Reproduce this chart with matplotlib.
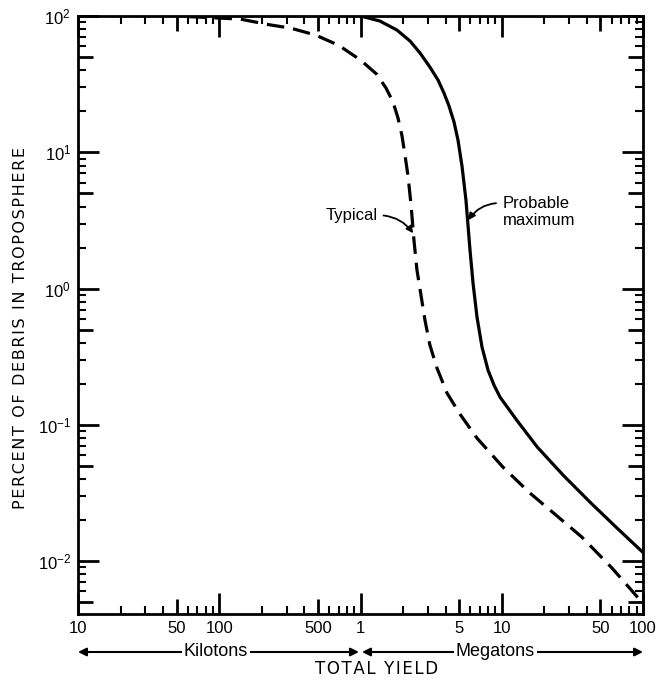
import numpy as np
import matplotlib
matplotlib.use('Agg')
import matplotlib.pyplot as plt
import matplotlib.transforms as mtransforms
from matplotlib.ticker import FixedLocator, NullFormatter

plt.rcParams['font.family'] = ['Liberation Sans', 'DejaVu Sans']
plt.rcParams['mathtext.fontset'] = 'custom'
plt.rcParams['mathtext.rm'] = 'Liberation Sans'
plt.rcParams['mathtext.it'] = 'Liberation Sans'

# total yield in megatons, percent of debris in troposphere
typical_yield = [0.06, 0.1, 0.14, 0.23, 0.32, 0.48, 0.7, 1.0, 1.3, 1.516, 1.70, 1.844,
                 1.967, 2.065, 2.17, 2.28, 2.39, 2.51, 2.68, 2.86, 3.1, 3.48, 4.1, 5.06,
                 6.68, 10.2, 15.85, 24.2, 37.0, 60.4, 100.0]
typical_pct = [99.0, 96.5, 95.0, 86.0, 81.5, 72.5, 61.0, 47.5, 37.5, 29.6, 23.4, 17.8,
               13.2, 9.54, 6.70, 4.10, 2.27, 1.37, 0.896, 0.587, 0.385, 0.261, 0.171, 0.12,
               0.080, 0.049, 0.0316, 0.0218, 0.015, 0.0089, 0.0049]

maximum_yield = [1.0, 1.37, 1.81, 2.24, 2.64, 3.1, 3.54, 3.90, 4.23, 4.59, 4.90, 5.23,
                 5.58, 5.96, 6.26, 6.68, 7.25, 8.0, 8.81, 9.72, 12.8, 17.8, 27.2, 42.2,
                 65.5, 100.0]
maximum_pct = [100.0, 91.9, 78.9, 65.6, 53.5, 42.2, 33.9, 27.2, 21.9, 16.7, 12.3, 7.93,
               4.46, 1.92, 1.10, 0.618, 0.372, 0.252, 0.196, 0.160, 0.108, 0.069, 0.0428,
               0.0271, 0.0175, 0.0116]

x_ticks = [0.01, 0.05, 0.1, 0.5, 1, 5, 10, 50, 100]
x_labels = ['10', '50', '100', '500', '1', '5', '10', '50', '100']
y_ticks = [0.01, 0.1, 1, 10, 100]
y_labels = [r'$10^{-2}$', r'$10^{-1}$', r'$10^{0}$', r'$10^{1}$', r'$10^{2}$']


def spaced(s):
    return '\u200a'.join(s)


fig = plt.figure(figsize=(6.59, 6.84), dpi=100)
ax = fig.add_axes([78 / 659, 1 - 614 / 684, 565 / 659, 598 / 684])

ax.plot(typical_yield, typical_pct, color='black', lw=2.3, dashes=(5.5, 2.8),
        solid_capstyle='butt', dash_capstyle='butt')
ax.plot(maximum_yield, maximum_pct, color='black', lw=2.3)

ax.set_xscale('log')
ax.set_yscale('log')
ax.set_xlim(0.01, 100)
ax.set_ylim(0.0041, 100)

for s in ax.spines.values():
    s.set_linewidth(2.0)

ax.xaxis.set_major_locator(FixedLocator(x_ticks))
ax.set_xticklabels(x_labels)
x_minor = [m * 10.0 ** k for k in range(-2, 2) for m in (2, 3, 4, 6, 7, 8, 9)]
ax.xaxis.set_minor_locator(FixedLocator(x_minor))
ax.xaxis.set_minor_formatter(NullFormatter())

y_major = [0.005, 0.01, 0.05, 0.1, 0.5, 1, 5, 10, 50, 100]
ax.yaxis.set_major_locator(FixedLocator(y_major))
ax.set_yticklabels(['' if v not in y_ticks else y_labels[y_ticks.index(v)] for v in y_major])
y_minor = [m * 10.0 ** k for k in range(-3, 2) for m in (2, 3, 4, 6, 7, 8, 9)]
y_minor = [v for v in y_minor if v > 0.0041]
ax.yaxis.set_minor_locator(FixedLocator(y_minor))
ax.yaxis.set_minor_formatter(NullFormatter())

ax.tick_params(which='both', direction='in', top=True, right=True, color='black')
ax.tick_params(which='major', length=14, width=2.0, labelsize=12, pad=5)
ax.tick_params(which='minor', length=6, width=1.5)

# decade ticks longer than the 5-ticks
for tick, v in zip(ax.xaxis.get_major_ticks(), x_ticks):
    size = 15 if np.isclose(np.log10(v) % 1, 0) else 11
    tick.tick1line.set_markersize(size)
    tick.tick2line.set_markersize(size)
for tick, v in zip(ax.yaxis.get_major_ticks(), y_major):
    size = 15 if np.isclose(np.log10(v) % 1, 0) else 11
    tick.tick1line.set_markersize(size)
    tick.tick2line.set_markersize(size)

ax.annotate('Typical', xy=(2.36, 2.55), xytext=(1.33, 3.46), fontsize=12,
            ha='right', va='center',
            arrowprops=dict(arrowstyle='-|>', color='black', lw=1.3, mutation_scale=10,
                            connectionstyle='arc3,rad=-0.25', relpos=(1, 0.5),
                            shrinkA=2, shrinkB=0))
ax.annotate('Probable\nmaximum', xy=(5.8, 3.18), xytext=(10.2, 3.64), fontsize=12,
            ha='left', va='center', linespacing=1.2,
            arrowprops=dict(arrowstyle='-|>', color='black', lw=1.3, mutation_scale=10,
                            connectionstyle='arc3,rad=0.28', relpos=(0, 0.78),
                            shrinkA=3, shrinkB=0))

# unit arrows below the tick labels
trans = mtransforms.blended_transform_factory(ax.transData, fig.transFigure)
row_y = 1 - 652 / 684
for x0, x1, name, xc in [(0.01, 0.975, 'Kilotons', 0.095), (1.025, 100, 'Megatons', 9.0)]:
    ax.annotate('', xy=(x0, row_y), xytext=(x1, row_y), xycoords=trans, textcoords=trans,
                annotation_clip=False,
                arrowprops=dict(arrowstyle='<|-|>', color='black', lw=1.5,
                                mutation_scale=12, shrinkA=0, shrinkB=0))
    ax.text(xc, row_y, name, transform=trans, fontsize=13, ha='center', va='center',
            bbox=dict(facecolor='white', edgecolor='none', pad=1.5))

fig.text(377 / 659, 1 - 669 / 684, spaced('TOTAL YIELD'), fontsize=12, ha='center',
         va='center', family='DejaVu Sans')
fig.text(21 / 659, 1 - 328 / 684, spaced('PERCENT OF DEBRIS IN TROPOSPHERE'),
         fontsize=11.5, rotation=90, ha='center', va='center', family='DejaVu Sans')

fig.savefig('out.png', dpi=100)
